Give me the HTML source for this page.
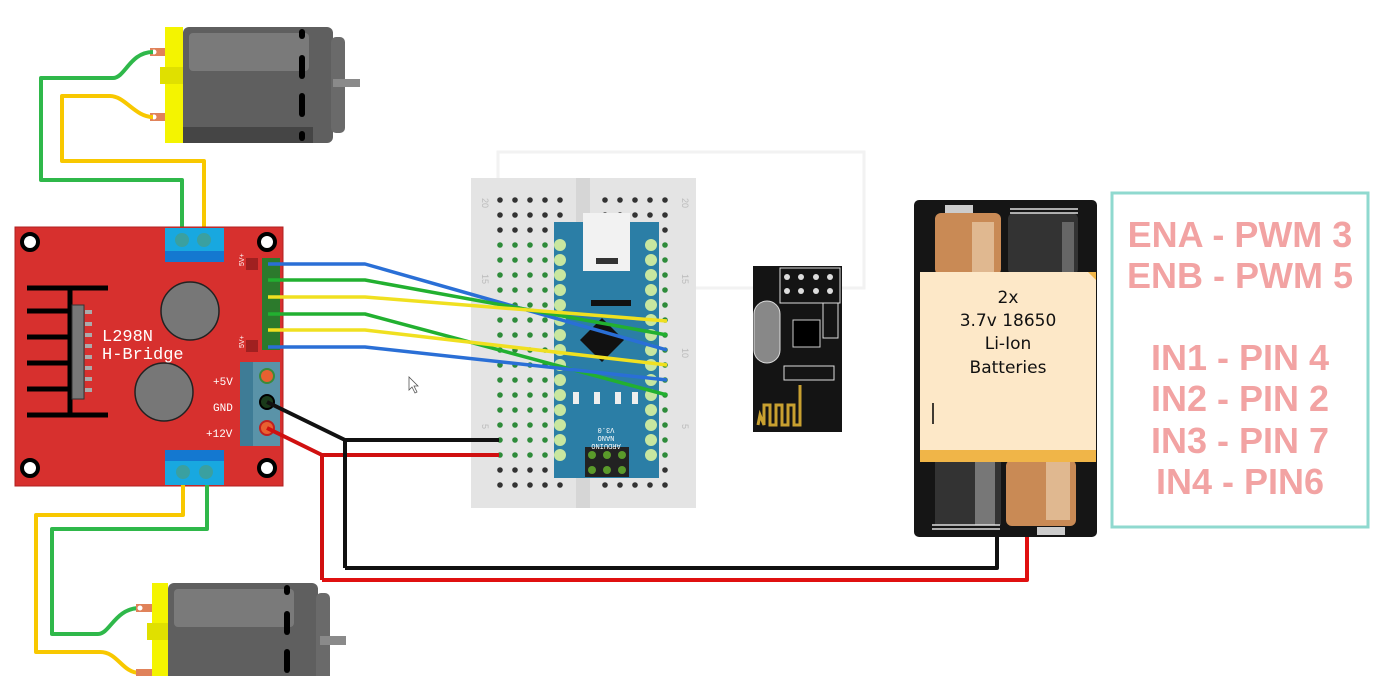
<!DOCTYPE html>
<html><head><meta charset="utf-8"><style>
html,body{margin:0;padding:0;background:#fff;width:1380px;height:676px;overflow:hidden}
svg{display:block}
</style></head><body>
<svg width="1380" height="676" viewBox="0 0 1380 676" xmlns="http://www.w3.org/2000/svg">
<defs>
<g id="motorBody">
  <rect x="0" y="0" width="150" height="116" rx="6" fill="#5f5f5f"/>
  <rect x="6" y="6" width="120" height="38" rx="4" fill="#7a7a7a"/>
  <rect x="0" y="100" width="130" height="16" fill="#454545"/>
  <rect x="148" y="10" width="14" height="96" rx="5" fill="#6a6a6a"/>
  <rect x="116" y="2" width="6" height="10" rx="3" fill="#000"/>
  <rect x="116" y="28" width="6" height="24" rx="3" fill="#000"/>
  <rect x="116" y="66" width="6" height="24" rx="3" fill="#000"/>
  <rect x="116" y="104" width="6" height="10" rx="3" fill="#000"/>
</g>
<pattern id="pd" x="492.5" y="192.5" width="15" height="15" patternUnits="userSpaceOnUse"><circle cx="7.5" cy="7.5" r="2.8" fill="#333"/></pattern>
<pattern id="pg" x="492.5" y="192.5" width="15" height="15" patternUnits="userSpaceOnUse"><circle cx="7.5" cy="7.5" r="2.8" fill="#2e8b3a"/></pattern>
</defs>

<rect x="498" y="152" width="366" height="136" fill="none" stroke="#f2f2f2" stroke-width="3"/>

<!-- top motor -->
<rect x="165" y="27" width="18" height="116" fill="#f4f400"/>
<rect x="160" y="67" width="28" height="17" fill="#e0e000"/>
<use href="#motorBody" x="183" y="27"/>
<rect x="333" y="79" width="27" height="8" fill="#8a8a8a"/>
<rect x="150" y="48" width="15" height="8" fill="#e0825a"/>
<rect x="150" y="113" width="15" height="8" fill="#e0825a"/>
<circle cx="154" cy="52" r="2.5" fill="#fff"/>
<circle cx="154" cy="117" r="2.5" fill="#fff"/>
<g fill="none" stroke-width="4" stroke-linejoin="round">
<path d="M153 52 C130 52 125 78 113 78 L41 78 L41 180 L182 180 L182 238" stroke="#2fb84a"/>
<path d="M153 117 C135 117 125 96 110 96 L62 96 L62 161 L204 161 L204 238" stroke="#f8c800"/>
</g>

<!-- L298N -->
<rect x="15" y="227" width="268" height="259" fill="#d7302e" stroke="#b02020" stroke-width="1"/>
<rect x="165" y="228" width="59" height="34" fill="#18a8e0"/>
<rect x="165" y="251" width="59" height="11" fill="#1478d0"/>
<circle cx="182" cy="240" r="7" fill="#3aa0a0"/><circle cx="204" cy="240" r="7" fill="#3aa0a0"/>
<rect x="165" y="450" width="59" height="35" fill="#18a8e0"/>
<rect x="165" y="450" width="59" height="11" fill="#1478d0"/>
<circle cx="183" cy="472" r="7" fill="#3aa0a0"/><circle cx="206" cy="472" r="7" fill="#3aa0a0"/>
<g fill="#fff" stroke="#000" stroke-width="4">
<circle cx="30" cy="242" r="8"/><circle cx="267" cy="242" r="8"/>
<circle cx="30" cy="468" r="8"/><circle cx="267" cy="468" r="8"/>
</g>
<g stroke="#000" stroke-width="5">
<line x1="27" y1="288" x2="108" y2="288"/><line x1="27" y1="311" x2="70" y2="311"/>
<line x1="27" y1="337" x2="70" y2="337"/><line x1="27" y1="363" x2="70" y2="363"/>
<line x1="27" y1="389" x2="70" y2="389"/><line x1="27" y1="415" x2="108" y2="415"/>
<line x1="70" y1="288" x2="70" y2="415"/>
</g>
<rect x="72" y="305" width="12" height="94" fill="#777" stroke="#333"/>
<g fill="#aaa"><rect x="85" y="310" width="7" height="4"/><rect x="85" y="322" width="7" height="4"/><rect x="85" y="333" width="7" height="4"/><rect x="85" y="344" width="7" height="4"/><rect x="85" y="355" width="7" height="4"/><rect x="85" y="366" width="7" height="4"/><rect x="85" y="377" width="7" height="4"/><rect x="85" y="388" width="7" height="4"/></g>
<circle cx="190" cy="311" r="29" fill="#777" stroke="#222" stroke-width="1.5"/>
<circle cx="164" cy="392" r="29" fill="#777" stroke="#222" stroke-width="1.5"/>
<text x="102" y="341" font-family="Liberation Mono, monospace" font-size="17" fill="#fff">L298N</text>
<text x="102" y="359" font-family="Liberation Mono, monospace" font-size="17" fill="#fff">H-Bridge</text>
<g fill="#a02020"><rect x="246" y="258" width="12" height="12"/><rect x="246" y="340" width="12" height="12"/></g>
<g fill="#2c7a2c"><rect x="262" y="258" width="18" height="92"/></g>
<g font-family="Liberation Sans, sans-serif" font-size="7" fill="#fff"><text x="240" y="270" transform="rotate(-90 240 266)">5V+</text><text x="240" y="352" transform="rotate(-90 240 348)">5V+</text></g>
<rect x="240" y="362" width="40" height="84" fill="#3e7c96"/>
<rect x="253" y="362" width="27" height="84" fill="#5a93a8"/>
<circle cx="267" cy="376" r="7" fill="#e86030" stroke="#3a8a3a" stroke-width="2"/>
<circle cx="267" cy="428" r="7" fill="#e86030" stroke="#c02020" stroke-width="2"/>
<circle cx="267" cy="402" r="7" fill="#1a3a1a" stroke="#000" stroke-width="2"/>
<g font-family="Liberation Mono, monospace" font-size="11" fill="#fff">
<text x="213" y="385">+5V</text><text x="213" y="411">GND</text><text x="206" y="437">+12V</text></g>

<!-- breadboard -->
<rect x="471" y="178" width="225" height="330" fill="#e4e4e4"/>
<rect x="576" y="178" width="14" height="330" fill="#d6d6d6"/>
<rect x="492.5" y="192.5" width="75" height="45" fill="url(#pd)"/>
<rect x="597.5" y="192.5" width="75" height="45" fill="url(#pd)"/>
<rect x="492.5" y="237.5" width="75" height="225" fill="url(#pg)"/>
<rect x="597.5" y="237.5" width="75" height="225" fill="url(#pg)"/>
<rect x="492.5" y="462.5" width="75" height="30" fill="url(#pd)"/>
<rect x="597.5" y="462.5" width="75" height="30" fill="url(#pd)"/>
<g font-family="Liberation Sans, sans-serif" font-size="9" fill="#bbb">
<text x="486" y="202" transform="rotate(90 486 198)">20</text><text x="686" y="202" transform="rotate(90 686 198)">20</text>
<text x="486" y="278" transform="rotate(90 486 274)">15</text><text x="686" y="278" transform="rotate(90 686 274)">15</text>
<text x="686" y="352" transform="rotate(90 686 348)">10</text>
<text x="486" y="428" transform="rotate(90 486 424)">5</text><text x="686" y="428" transform="rotate(90 686 424)">5</text>
</g>
<!-- arduino -->
<rect x="554" y="222" width="105" height="256" fill="#2b7ea6"/>
<g fill="#c8e6a0">
<circle cx="560" cy="245" r="6"/><circle cx="560" cy="260" r="6"/><circle cx="560" cy="275" r="6"/><circle cx="560" cy="290" r="6"/><circle cx="560" cy="305" r="6"/><circle cx="560" cy="320" r="6"/><circle cx="560" cy="335" r="6"/><circle cx="560" cy="350" r="6"/><circle cx="560" cy="365" r="6"/><circle cx="560" cy="380" r="6"/><circle cx="560" cy="395" r="6"/><circle cx="560" cy="410" r="6"/><circle cx="560" cy="425" r="6"/><circle cx="560" cy="440" r="6"/><circle cx="560" cy="455" r="6"/>
<circle cx="651" cy="245" r="6"/><circle cx="651" cy="260" r="6"/><circle cx="651" cy="275" r="6"/><circle cx="651" cy="290" r="6"/><circle cx="651" cy="305" r="6"/><circle cx="651" cy="320" r="6"/><circle cx="651" cy="335" r="6"/><circle cx="651" cy="350" r="6"/><circle cx="651" cy="365" r="6"/><circle cx="651" cy="380" r="6"/><circle cx="651" cy="395" r="6"/><circle cx="651" cy="410" r="6"/><circle cx="651" cy="425" r="6"/><circle cx="651" cy="440" r="6"/><circle cx="651" cy="455" r="6"/>
</g>
<rect x="583" y="213" width="47" height="58" fill="#f2f2f2"/>
<rect x="596" y="258" width="22" height="6" fill="#333"/>
<polygon points="602,318 624,340 602,362 580,340" fill="#111"/>
<rect x="591" y="300" width="40" height="6" fill="#111"/>
<rect x="585" y="447" width="44" height="30" fill="#222"/>
<g fill="#5a9a2a"><circle cx="592" cy="455" r="4"/><circle cx="607" cy="455" r="4"/><circle cx="622" cy="455" r="4"/><circle cx="592" cy="470" r="4"/><circle cx="607" cy="470" r="4"/><circle cx="622" cy="470" r="4"/></g>
<g fill="#eee"><rect x="573" y="392" width="6" height="12"/><rect x="594" y="392" width="6" height="12"/><rect x="615" y="392" width="6" height="12"/><rect x="632" y="392" width="6" height="12"/></g>
<text x="606" y="432" font-family="Liberation Mono, monospace" font-size="7" fill="#fff" text-anchor="middle" transform="rotate(180 606 430)">V3.0</text>
<text x="606" y="440" font-family="Liberation Mono, monospace" font-size="7" fill="#fff" text-anchor="middle" transform="rotate(180 606 438)">NANO</text>
<text x="606" y="448" font-family="Liberation Mono, monospace" font-size="7" fill="#fff" text-anchor="middle" transform="rotate(180 606 446)">ARDUINO</text>

<!-- signal wires -->
<g fill="none" stroke-width="3.5" stroke-linejoin="round">
<path d="M268 264 L365 264 L667 350" stroke="#2a6fd6"/>
<path d="M268 280 L365 280 L667 335" stroke="#22b030"/>
<path d="M268 297 L365 297 L667 321" stroke="#f0e020"/>
<path d="M268 314 L365 314 L667 395" stroke="#22b030"/>
<path d="M268 330 L365 330 L667 365" stroke="#f0e020"/>
<path d="M268 347 L365 347 L667 380" stroke="#2a6fd6"/>
</g>
<g fill="none" stroke-width="4" stroke-linejoin="round">
<path d="M322 580 L1027 580 L1027 535" stroke="#e01010"/>
<path d="M267 428 L322 455 L499 455 M322 455 L322 580" stroke="#d01010"/>
<path d="M345 568 L997 568 L997 535" stroke="#111"/>
<path d="M267 402 L345 440 L499 440 M345 440 L345 568" stroke="#111"/>
</g>

<!-- NRF -->
<rect x="753" y="266" width="89" height="166" fill="#141414"/>
<rect x="780" y="268" width="60" height="35" fill="none" stroke="#ddd"/>
<g fill="#ddd"><circle cx="787" cy="277" r="3"/><circle cx="801" cy="277" r="3"/><circle cx="816" cy="277" r="3"/><circle cx="830" cy="277" r="3"/><circle cx="787" cy="291" r="3"/><circle cx="801" cy="291" r="3"/><circle cx="816" cy="291" r="3"/><circle cx="830" cy="291" r="3"/></g>
<rect x="754" y="301" width="26" height="62" rx="13" fill="#888" stroke="#ddd"/>
<rect x="793" y="320" width="27" height="27" fill="#000" stroke="#ccc"/>
<g fill="none" stroke="#ddd"><rect x="823" y="303" width="15" height="35"/><rect x="784" y="366" width="50" height="14"/></g>
<path d="M758 425 L760 415 L764 425 L764 405 L770 405 L770 425 L776 425 L776 405 L782 405 L782 425 L788 425 L788 405 L794 405 L794 425 L800 425 L800 385" fill="none" stroke="#c8a030" stroke-width="3"/>

<!-- battery -->
<rect x="914" y="200" width="183" height="337" rx="5" fill="#151515"/>
<rect x="935" y="213" width="66" height="62" rx="6" fill="#c98a55"/>
<rect x="972" y="222" width="22" height="53" fill="#e0b890"/>
<rect x="1008" y="213" width="70" height="62" rx="6" fill="#333"/>
<rect x="1062" y="222" width="12" height="53" fill="#666"/>
<rect x="935" y="460" width="66" height="65" fill="#333"/>
<rect x="975" y="460" width="20" height="65" fill="#777"/>
<rect x="1006" y="460" width="70" height="66" rx="6" fill="#c98a55"/>
<rect x="1046" y="460" width="24" height="60" fill="#e0b890"/>
<rect x="945" y="205" width="28" height="8" fill="#ccc"/>
<rect x="1037" y="527" width="28" height="8" fill="#ccc"/>
<path d="M1010 209 L1078 209 M1010 213 L1078 213" stroke="#ddd" stroke-width="1.5"/>
<path d="M932 525 L1000 525 M932 529 L1000 529" stroke="#ddd" stroke-width="1.5"/>
<rect x="920" y="272" width="176" height="178" fill="#fde8c8"/>
<rect x="920" y="450" width="176" height="12" fill="#f0b548"/>
<polygon points="1088,272 1096,272 1096,280" fill="#f0b548"/>
<g font-family="DejaVu Sans, sans-serif" font-size="17" fill="#111" text-anchor="middle">
<text x="1008" y="303">2x</text><text x="1008" y="326">3.7v 18650</text><text x="1008" y="349">Li-Ion</text><text x="1008" y="373">Batteries</text></g>
<line x1="933" y1="403" x2="933" y2="424" stroke="#000" stroke-width="1.5"/>

<!-- text box -->
<rect x="1112" y="193" width="256" height="334" fill="#fff" stroke="#8fd9cf" stroke-width="3"/>
<g font-family="Liberation Sans, sans-serif" font-weight="bold" font-size="36" fill="#f2a3a3" text-anchor="middle">
<text x="1240" y="247">ENA - PWM 3</text><text x="1240" y="288">ENB - PWM 5</text>
<text x="1240" y="370">IN1 - PIN 4</text><text x="1240" y="411">IN2 - PIN 2</text>
<text x="1240" y="453">IN3 - PIN 7</text><text x="1240" y="494">IN4 - PIN6</text></g>

<!-- bottom motor -->
<g fill="none" stroke-width="4" stroke-linejoin="round">
<path d="M183 485 L183 515 L36 515 L36 652 L100 652 C118 652 122 673 140 673" stroke="#f8c800"/>
<path d="M207 485 L207 529 L52 529 L52 634 L98 634 C110 634 115 608 140 608" stroke="#2fb84a"/>
</g>
<rect x="152" y="583" width="16" height="93" fill="#f4f400"/>
<rect x="147" y="623" width="27" height="17" fill="#e0e000"/>
<use href="#motorBody" x="168" y="583"/>
<rect x="320" y="636" width="26" height="9" fill="#8a8a8a"/>
<rect x="136" y="604" width="16" height="8" fill="#e0825a"/>
<rect x="136" y="669" width="16" height="7" fill="#e0825a"/>
<circle cx="140" cy="608" r="2.5" fill="#fff"/>
<path d="M409 377 L409 390 L412 387 L415 393 L417 392 L414 386 L418 386 Z" fill="#fff" stroke="#555" stroke-width="0.8"/>
</svg>
</body></html>
